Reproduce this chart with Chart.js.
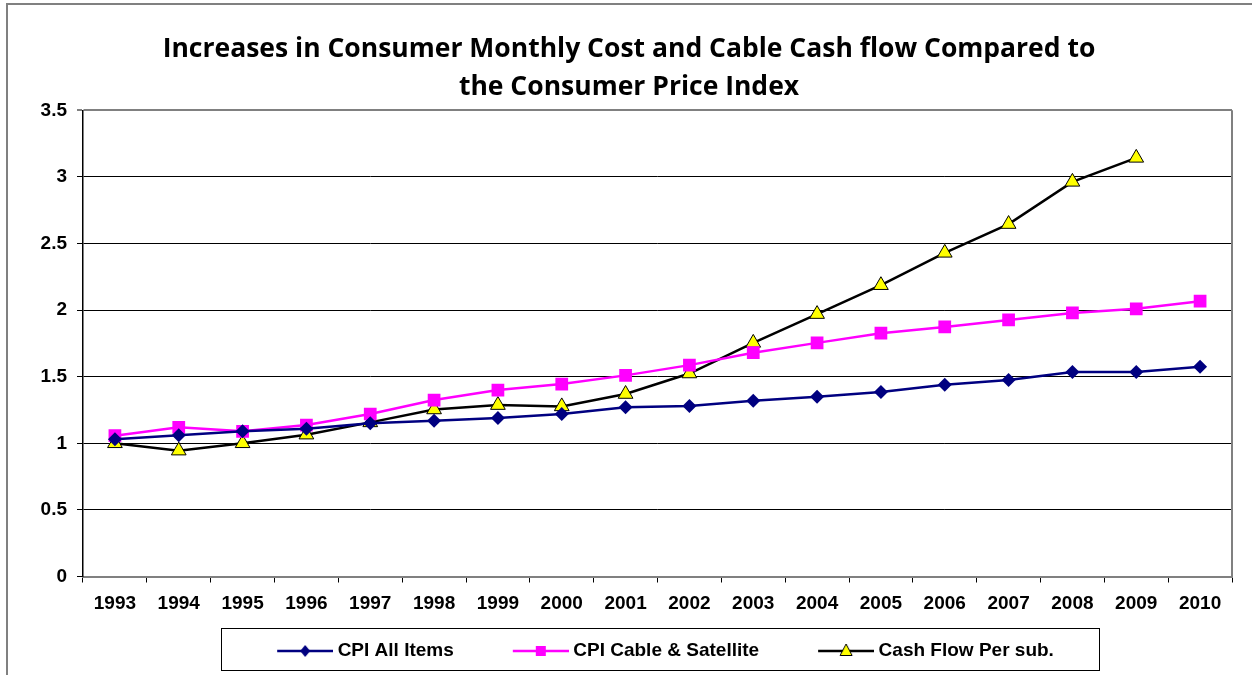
<!DOCTYPE html>
<html>
<head>
<meta charset="utf-8">
<script src="https://cdn.jsdelivr.net/npm/chart.js@4/dist/chart.umd.min.js"></script>
<style>
html,body{margin:0;padding:0;background:#fff;}
#wrap{position:absolute;left:0;top:0;width:1252px;height:675px;}
</style>
</head>
<body>
<div id="wrap"><canvas id="c" width="1252" height="675"></canvas></div>
<script>
const years = ['1993','1994','1995','1996','1997','1998','1999','2000','2001','2002','2003','2004','2005','2006','2007','2008','2009','2010'];
const cpiAllItems = [1.03,1.06,1.09,1.11,1.15,1.17,1.19,1.22,1.27,1.28,1.32,1.35,1.385,1.44,1.475,1.535,1.535,1.575];
const cpiCable = [1.057,1.12,1.09,1.137,1.22,1.325,1.40,1.445,1.51,1.587,1.68,1.754,1.827,1.874,1.926,1.979,2.01,2.067];
const cashFlow = [1.0,0.945,1.0,1.065,1.157,1.254,1.287,1.277,1.37,1.524,1.754,1.97,2.187,2.43,2.646,2.963,3.143,null];
const yTicks = [0,0.5,1,1.5,2,2.5,3,3.5];
const seriesNames = ['CPI All Items','CPI Cable & Satellite','Cash Flow Per sub.'];

const LEG_BOX = 100;
const LEG_IMG = LEG_BOX + 10;
const LINE_LEN = 56;
const LEG_SHIFT = 21;
const TITLE_SHIFT = 9;

function legendIcon(color, style, fill, border){
  const c = document.createElement('canvas');
  c.width = LEG_IMG; c.height = 18;
  const g = c.getContext('2d');
  const x0 = LEG_IMG - LINE_LEN, cx = LEG_IMG - LINE_LEN/2, cy = 9;
  g.strokeStyle = color; g.lineWidth = 2.5;
  g.beginPath(); g.moveTo(x0,cy); g.lineTo(LEG_IMG,cy); g.stroke();
  g.fillStyle = fill;
  if (style === 'diamond'){
    g.beginPath(); g.moveTo(cx,cy-6); g.lineTo(cx+5,cy); g.lineTo(cx,cy+6); g.lineTo(cx-5,cy); g.closePath(); g.fill();
  } else if (style === 'square'){
    g.fillRect(cx-5,cy-5,10,10);
  } else {
    g.beginPath(); g.moveTo(cx,cy-7); g.lineTo(cx+6,cy+4.5); g.lineTo(cx-6,cy+4.5); g.closePath(); g.fill();
    g.strokeStyle = border; g.lineWidth = 1; g.stroke();
  }
  return c;
}
const icons = [
  legendIcon('#000080','diamond','#000080'),
  legendIcon('#FF00FF','square','#FF00FF'),
  legendIcon('#000000','triangle','#FFFF00','#000000')
];

const framePlugin = {
  id:'frame',
  afterLayout(chart){
    chart.legend.left += LEG_SHIFT;
    chart.legend.right += LEG_SHIFT;
    if (chart.titleBlock){
      chart.titleBlock.left += TITLE_SHIFT;
      chart.titleBlock.right += TITLE_SHIFT;
    }
  },
  afterDraw(chart){
    const ctx = chart.ctx, a = chart.chartArea;
    ctx.save();
    ctx.strokeStyle = '#808080'; ctx.lineWidth = 2;
    ctx.beginPath(); ctx.moveTo(7,675); ctx.lineTo(7,4); ctx.lineTo(1252,4); ctx.stroke();
    ctx.beginPath(); ctx.moveTo(a.right, a.top); ctx.lineTo(a.right, a.bottom); ctx.stroke();
    const hb = chart.legend.legendHitBoxes;
    if (hb && hb.length){
      const first = hb[0], last = hb[hb.length-1];
      const lineStart = first.left + LEG_BOX + 5 - LINE_LEN;
      const l = lineStart - 56, r = last.left + last.width + 45;
      const t = 628, b = 670;
      ctx.strokeStyle = '#000'; ctx.lineWidth = 1;
      ctx.strokeRect(Math.round(l)+0.5, t+0.5, Math.round(r-l), b-t);
    }
    ctx.restore();
  }
};

const tickFont = {family:'"Liberation Sans", Arial, sans-serif', size:19, weight:'bold'};

new Chart(document.getElementById('c'), {
  type:'line',
  data:{
    labels: years,
    datasets:[
      {label:seriesNames[0], data:cpiAllItems, borderColor:'#000080', backgroundColor:'#000080', borderWidth:2.5,
       pointStyle:'rectRot', pointRadius:7, pointBorderWidth:0, pointBackgroundColor:'#000080', tension:0},
      {label:seriesNames[1], data:cpiCable, borderColor:'#FF00FF', backgroundColor:'#FF00FF', borderWidth:2.5,
       pointStyle:'rect', pointRadius:9, pointBorderWidth:0, pointBackgroundColor:'#FF00FF', tension:0},
      {label:seriesNames[2], data:cashFlow, borderColor:'#000000', backgroundColor:'#FFFF00', borderWidth:2.5,
       pointStyle:'triangle', pointRadius:8.5, pointBorderWidth:1, pointBorderColor:'#000', pointBackgroundColor:'#FFFF00', tension:0}
    ]
  },
  options:{
    responsive:false, animation:false,
    layout:{padding:{left:8, right:20, top:0, bottom:4.5}},
    plugins:{
      title:{display:true, text:['Increases in Consumer Monthly Cost and Cable Cash flow Compared to','the Consumer Price Index'],
        color:'#000', font:{family:'"Open Sans", sans-serif', size:26.5, weight:'bold', lineHeight:1.44}, padding:{top:30, bottom:4}},
      legend:{position:'bottom',
        labels:{usePointStyle:true, pointStyleWidth:LEG_BOX, color:'#000', padding:10,
          font:tickFont,
          generateLabels(chart){
            return chart.data.datasets.map((d,i)=>({text:d.label, pointStyle:icons[i], datasetIndex:i, hidden:false, lineWidth:0, fontColor:'#000'}));
          }}
      },
      tooltip:{enabled:false}
    },
    scales:{
      x:{offset:true,
        afterFit(s){ s.height = 55; },
        grid:{offset:true, drawOnChartArea:false, drawTicks:true, tickLength:6, color:'#000'},
        border:{color:'#808080', width:2},
        ticks:{color:'#000', font:tickFont, padding:10, maxRotation:0, autoSkip:false}
      },
      y:{min:0, max:3.5,
        afterBuildTicks(s){ s.ticks = yTicks.map(v=>({value:v})); },
        afterFit(s){ s.width = 75; },
        grid:{color:(c)=> c.tick && c.tick.value===3.5 ? '#808080' : '#000', lineWidth:(c)=> c.tick && c.tick.value===3.5 ? 2 : 1, tickLength:6, drawTicks:true},
        border:{color:'#000', width:1.5},
        ticks:{color:'#000', font:tickFont, padding:10, callback:(v)=> String(v)}
      }
    }
  },
  plugins:[framePlugin]
});
</script>
</body>
</html>
